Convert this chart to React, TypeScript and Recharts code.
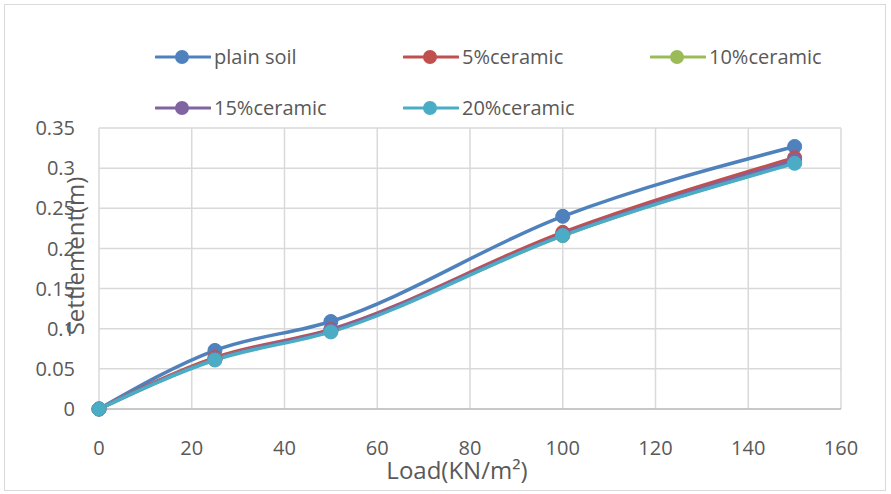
import React from 'react';
import { LineChart, Line, XAxis, YAxis, CartesianGrid, Label } from 'recharts';

const loads = [0, 25, 50, 100, 150];
const plainSoil = [0, 0.073, 0.109, 0.24, 0.327];
const ceramic5 = [0, 0.064, 0.099, 0.22, 0.313];
const ceramic10 = [0, 0.062, 0.097, 0.216, 0.307];
const ceramic15 = [0, 0.062, 0.098, 0.217, 0.31];
const ceramic20 = [0, 0.061, 0.096, 0.216, 0.306];

const xTicks = [0, 20, 40, 60, 80, 100, 120, 140, 160];
const yTicks = [0, 0.05, 0.1, 0.15, 0.2, 0.25, 0.3, 0.35];

const series = [
  { key: 'plain', name: 'plain soil', color: '#4F81BD', values: plainSoil },
  { key: 'c5', name: '5%ceramic', color: '#C0504D', values: ceramic5 },
  { key: 'c10', name: '10%ceramic', color: '#9BBB59', values: ceramic10 },
  { key: 'c15', name: '15%ceramic', color: '#8064A2', values: ceramic15 },
  { key: 'c20', name: '20%ceramic', color: '#4BACC6', values: ceramic20 },
];

const data = loads.map((load, i) => {
  const row: Record<string, number> = { load };
  series.forEach(s => {
    row[s.key] = s.values[i];
  });
  return row;
});

const FONT = '"Open Sans", sans-serif';
const TEXT = '#595959';

// legend slots in the reference: three per row, two rows
const legendPos = [
  { left: 155, top: 57 },
  { left: 403, top: 57 },
  { left: 650, top: 57 },
  { left: 155, top: 108 },
  { left: 403, top: 108 },
];

function ChartLegend() {
  return (
    <>
      {series.map((s, i) => (
        <div
          key={s.key}
          style={{
            position: 'absolute',
            left: legendPos[i].left,
            top: legendPos[i].top - 15,
            height: 30,
            display: 'flex',
            alignItems: 'center',
            fontFamily: FONT,
            fontSize: 20,
            color: TEXT,
            whiteSpace: 'nowrap',
          }}
        >
          <svg width={56} height={16} style={{ marginRight: 3 }}>
            <line x1={1} y1={8} x2={55} y2={8} stroke={s.color} strokeWidth={3} strokeLinecap="round" />
            <circle cx={27} cy={8} r={7} fill={s.color} />
          </svg>
          <span style={{ lineHeight: '30px' }}>{s.name}</span>
        </div>
      ))}
    </>
  );
}

export default function App() {
  return (
    <div style={{ position: 'absolute', left: 0, top: 0, width: 891, height: 494, background: '#fff' }}>
      <div
        style={{
          position: 'absolute',
          left: 4,
          top: 4,
          width: 880,
          height: 485,
          border: '1.5px solid #d9d9d9',
        }}
      />
      <LineChart
        width={891}
        height={494}
        data={data}
        margin={{ top: 128, right: 50, left: 0, bottom: 0 }}
        style={{ position: 'absolute', left: 0, top: 0, fontFamily: FONT }}
      >
        <CartesianGrid stroke="#d9d9d9" strokeWidth={1.5} />
        <XAxis
          dataKey="load"
          type="number"
          domain={[0, 160]}
          ticks={xTicks}
          height={85}
          tickSize={0}
          tickMargin={32}
          tickLine={false}
          axisLine={{ stroke: '#bfbfbf', strokeWidth: 1.5 }}
          tick={{ fill: TEXT, fontSize: 20, fontFamily: FONT }}
          interval={0}
        >
          <Label
            content={() => (
              <text x={457} y={479} textAnchor="middle" fill={TEXT} fontSize={24} fontFamily={FONT}>
                Load(KN/m²)
              </text>
            )}
          />
        </XAxis>
        <YAxis
          type="number"
          domain={[0, 0.35]}
          ticks={yTicks}
          width={99}
          tickSize={0}
          tickMargin={24}
          tickLine={false}
          axisLine={false}
          tick={{ fill: TEXT, fontSize: 20, fontFamily: FONT }}
          interval={0}
        >
          <Label
            content={() => (
              <text
                x={84}
                y={256}
                textAnchor="middle"
                fill={TEXT}
                fontSize={24}
                fontFamily={FONT}
                transform="rotate(-90 84 256)"
              >
                Settlement(m)
              </text>
            )}
          />
        </YAxis>
        {series.map(s => (
          <Line
            key={s.key}
            type="monotone"
            dataKey={s.key}
            name={s.name}
            stroke={s.color}
            strokeWidth={3.5}
            dot={{ r: 7, fill: s.color, stroke: s.color, strokeWidth: 1 }}
            activeDot={false}
            isAnimationActive={false}
          />
        ))}
      </LineChart>
      <ChartLegend />
    </div>
  );
}
